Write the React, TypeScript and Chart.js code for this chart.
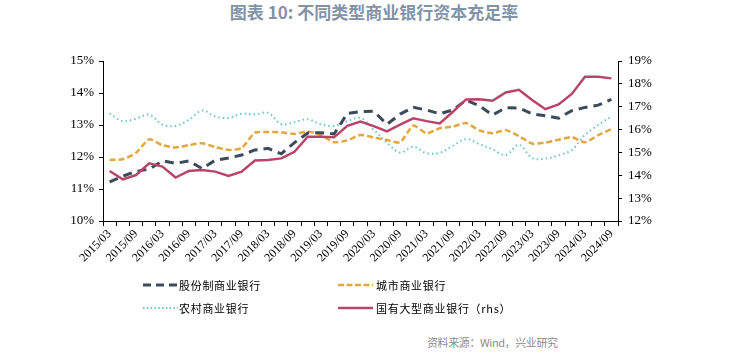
import React, { useEffect, useRef } from "react";
import { Chart, registerables } from "chart.js";

Chart.register(...registerables);

const quarters = [
  "2015/03", "2015/06", "2015/09", "2015/12",
  "2016/03", "2016/06", "2016/09", "2016/12",
  "2017/03", "2017/06", "2017/09", "2017/12",
  "2018/03", "2018/06", "2018/09", "2018/12",
  "2019/03", "2019/06", "2019/09", "2019/12",
  "2020/03", "2020/06", "2020/09", "2020/12",
  "2021/03", "2021/06", "2021/09", "2021/12",
  "2022/03", "2022/06", "2022/09", "2022/12",
  "2023/03", "2023/06", "2023/09", "2023/12",
  "2024/03", "2024/06", "2024/09",
];

const jointStock = [11.22, 11.40, 11.55, 11.62, 11.88, 11.80, 11.88, 11.64, 11.90, 11.97, 12.06, 12.22, 12.27, 12.10, 12.45, 12.75, 12.76, 12.72, 13.36, 13.42, 13.43, 13.02, 13.34, 13.55, 13.47, 13.35, 13.47, 13.78, 13.60, 13.31, 13.54, 13.53, 13.35, 13.29, 13.21, 13.45, 13.55, 13.62, 13.80];
const cityBanks = [11.91, 11.93, 12.13, 12.55, 12.37, 12.30, 12.37, 12.43, 12.31, 12.22, 12.28, 12.76, 12.78, 12.77, 12.72, 12.80, 12.69, 12.46, 12.52, 12.69, 12.61, 12.53, 12.46, 12.98, 12.74, 12.90, 12.95, 13.06, 12.83, 12.74, 12.84, 12.65, 12.42, 12.45, 12.54, 12.62, 12.46, 12.68, 12.87];
const ruralBanks = [13.36, 13.12, 13.20, 13.32, 13.01, 12.97, 13.16, 13.45, 13.27, 13.22, 13.35, 13.33, 13.38, 13.03, 13.09, 13.18, 13.02, 12.97, 13.12, 13.22, 12.85, 12.45, 12.14, 12.32, 12.12, 12.13, 12.35, 12.56, 12.40, 12.24, 12.06, 12.38, 11.97, 11.95, 12.05, 12.22, 12.69, 13.00, 13.27];
const largeBanks = [14.19, 13.82, 14.01, 14.52, 14.38, 13.90, 14.19, 14.23, 14.16, 13.97, 14.16, 14.65, 14.67, 14.74, 15.03, 15.69, 15.69, 15.66, 16.16, 16.35, 16.15, 15.92, 16.22, 16.49, 16.37, 16.27, 16.78, 17.32, 17.33, 17.26, 17.62, 17.74, 17.29, 16.89, 17.10, 17.56, 18.31, 18.31, 18.24];

const seriesNames = ["股份制商业银行", "城市商业银行", "农村商业银行", "国有大型商业银行（rhs）"];
const leftTicks = { min: 10, max: 15, step: 1 };
const rightTicks = { min: 12, max: 19, step: 1 };

const C_DARK = "#3c4a5c";
const C_GOLD = "#e2a73e";
const C_TEAL = "#6cc3cc";
const C_RED = "#b7456a";

const axisFont = { family: "'Liberation Serif', serif", size: 13 };

export default function App() {
  const ref = useRef<HTMLCanvasElement>(null);
  useEffect(() => {
    const chart = new Chart(ref.current as HTMLCanvasElement, {
      type: "line",
      data: {
        labels: quarters,
        datasets: [
          { label: seriesNames[3], data: largeBanks, yAxisID: "y1", borderColor: C_RED, borderWidth: 2.5, pointRadius: 0, tension: 0, fill: false },
          { label: seriesNames[0], data: jointStock, yAxisID: "y", borderColor: C_DARK, borderWidth: 3, borderDash: [9, 6], pointRadius: 0, tension: 0, fill: false },
          { label: seriesNames[1], data: cityBanks, yAxisID: "y", borderColor: C_GOLD, borderWidth: 2.5, borderDash: [6, 3], pointRadius: 0, tension: 0.2, fill: false },
          { label: seriesNames[2], data: ruralBanks, yAxisID: "y", borderColor: C_TEAL, borderWidth: 2, borderDash: [1.5, 3], pointRadius: 0, tension: 0.35, fill: false },
        ],
      },
      options: {
        animation: false,
        responsive: false,
        maintainAspectRatio: false,
        layout: { padding: { top: 61, left: 0, right: 0, bottom: 0 } },
        plugins: { legend: { display: false }, title: { display: false }, tooltip: { enabled: false } },
        scales: {
          x: {
            type: "category",
            offset: true,
            afterFit: (s: any) => { s.height = 59; },
            grid: { display: true, drawOnChartArea: false, drawTicks: true, tickLength: 5, color: "#000", offset: true },
            border: { display: true, color: "#000", width: 1 },
            ticks: {
              autoSkip: false,
              maxRotation: 45,
              minRotation: 45,
              padding: 1,
              color: "#000",
              font: { family: "'Liberation Serif', serif", size: 12 },
              callback: (_v: any, i: number) => (i % 2 === 0 ? quarters[i] : ""),
            },
          },
          y: {
            position: "left",
            min: leftTicks.min,
            max: leftTicks.max,
            afterFit: (s: any) => { s.width = 103; },
            grid: { drawOnChartArea: false, drawTicks: true, tickLength: 4, color: "#000" },
            border: { display: true, color: "#000", width: 1 },
            ticks: { stepSize: leftTicks.step, padding: 5, color: "#000", font: axisFont, callback: (v: any) => v + "%" },
          },
          y1: {
            position: "right",
            min: rightTicks.min,
            max: rightTicks.max,
            afterFit: (s: any) => { s.width = 120; },
            grid: { drawOnChartArea: false, drawTicks: true, tickLength: 4, color: "#000" },
            border: { display: true, color: "#000", width: 1 },
            ticks: { stepSize: rightTicks.step, padding: 6, color: "#000", font: axisFont, callback: (v: any) => v + "%" },
          },
        },
      },
    });
    return () => chart.destroy();
  }, []);

  const legendText: React.CSSProperties = {
    position: "absolute",
    fontFamily: "'Noto Sans CJK SC', sans-serif",
    fontSize: 11,
    letterSpacing: 0.7,
    color: "#000",
    lineHeight: "14px",
    whiteSpace: "nowrap",
  };

  const sample = (left: number, top: number, color: string, width: number, dash?: string) => (
    <svg width={36} height={10} style={{ position: "absolute", left, top }}>
      <line x1={0} y1={5} x2={35} y2={5} stroke={color} strokeWidth={width} strokeDasharray={dash} />
    </svg>
  );

  return (
    <div style={{ position: "absolute", left: 0, top: 0, width: 738, height: 355, background: "#fff", overflow: "hidden" }}>
      <div
        style={{
          position: "absolute",
          top: 1,
          left: 0,
          width: 748,
          textAlign: "center",
          fontFamily: "'Noto Sans CJK SC', sans-serif",
          fontWeight: 700,
          fontSize: 17,
          color: "#8193a7",
          lineHeight: "22px",
        }}
      >
        图表 10: 不同类型商业银行资本充足率
      </div>
      <div style={{ position: "absolute", left: 0, top: 0, width: 738, height: 280 }}>
        <canvas ref={ref} width={738} height={280} style={{ width: 738, height: 280 }} />
      </div>
      {sample(143, 280, C_DARK, 3, "8 5")}
      <div style={{ ...legendText, left: 179, top: 278 }}>{seriesNames[0]}</div>
      {sample(338, 280, C_GOLD, 2.5, "6 2.5")}
      <div style={{ ...legendText, left: 376, top: 278 }}>{seriesNames[1]}</div>
      {sample(143, 303, C_TEAL, 2, "1.5 2.3")}
      <div style={{ ...legendText, left: 179, top: 301 }}>{seriesNames[2]}</div>
      {sample(338, 303, C_RED, 2.5)}
      <div style={{ ...legendText, left: 376, top: 301 }}>{seriesNames[3]}</div>
      <div
        style={{
          position: "absolute",
          left: 427,
          top: 334,
          fontFamily: "'Noto Sans CJK SC', sans-serif",
          fontSize: 11,
          letterSpacing: -0.4,
          color: "#8c8c8c",
          whiteSpace: "nowrap",
          lineHeight: "16px",
        }}
      >
        资料来源：Wind，兴业研究
      </div>
    </div>
  );
}
